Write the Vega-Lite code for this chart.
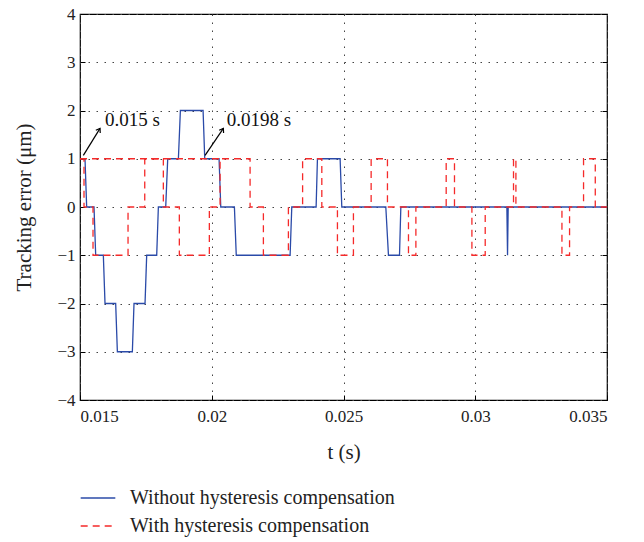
{
  "$schema": "https://vega.github.io/schema/vega-lite/v6.json",
  "width": 527,
  "height": 386,
  "autosize": {"type": "none"},
  "padding": {"left": 80, "top": 14, "right": 37, "bottom": 142},
  "background": "white",
  "config": {
    "font": "Liberation Serif",
    "view": {"stroke": "black", "strokeWidth": 1.2},
    "axis": {"labelFont": "Liberation Serif", "titleFont": "Liberation Serif", "labelFontSize": 17, "titleFontSize": 21, "labelColor": "#222", "titleColor": "#222", "titleFontWeight": "normal", "domain": false, "tickColor": "black", "tickSize": -5, "gridColor": "#444", "gridDash": [1.5, 6.5], "gridWidth": 1}
  },
  "datasets": {
    "lines": [
      {"s": "Without hysteresis compensation", "g": "b", "i": 0, "t": 0.015, "e": 1},
      {"s": "Without hysteresis compensation", "g": "b", "i": 1, "t": 0.01519, "e": 1},
      {"s": "Without hysteresis compensation", "g": "b", "i": 2, "t": 0.015253, "e": 0},
      {"s": "Without hysteresis compensation", "g": "b", "i": 3, "t": 0.015532, "e": 0},
      {"s": "Without hysteresis compensation", "g": "b", "i": 4, "t": 0.015595, "e": -1},
      {"s": "Without hysteresis compensation", "g": "b", "i": 5, "t": 0.015886, "e": -1},
      {"s": "Without hysteresis compensation", "g": "b", "i": 6, "t": 0.015949, "e": -2},
      {"s": "Without hysteresis compensation", "g": "b", "i": 7, "t": 0.016354, "e": -2},
      {"s": "Without hysteresis compensation", "g": "b", "i": 8, "t": 0.016418, "e": -3},
      {"s": "Without hysteresis compensation", "g": "b", "i": 9, "t": 0.016987, "e": -3},
      {"s": "Without hysteresis compensation", "g": "b", "i": 10, "t": 0.01705, "e": -2},
      {"s": "Without hysteresis compensation", "g": "b", "i": 11, "t": 0.017468, "e": -2},
      {"s": "Without hysteresis compensation", "g": "b", "i": 12, "t": 0.017531, "e": -1},
      {"s": "Without hysteresis compensation", "g": "b", "i": 13, "t": 0.017911, "e": -1},
      {"s": "Without hysteresis compensation", "g": "b", "i": 14, "t": 0.017974, "e": 0},
      {"s": "Without hysteresis compensation", "g": "b", "i": 15, "t": 0.018253, "e": 0},
      {"s": "Without hysteresis compensation", "g": "b", "i": 16, "t": 0.018329, "e": 1},
      {"s": "Without hysteresis compensation", "g": "b", "i": 17, "t": 0.018734, "e": 1},
      {"s": "Without hysteresis compensation", "g": "b", "i": 18, "t": 0.01881, "e": 2},
      {"s": "Without hysteresis compensation", "g": "b", "i": 19, "t": 0.019671, "e": 2},
      {"s": "Without hysteresis compensation", "g": "b", "i": 20, "t": 0.019734, "e": 1},
      {"s": "Without hysteresis compensation", "g": "b", "i": 21, "t": 0.020278, "e": 1},
      {"s": "Without hysteresis compensation", "g": "b", "i": 22, "t": 0.020342, "e": 0},
      {"s": "Without hysteresis compensation", "g": "b", "i": 23, "t": 0.02086, "e": 0},
      {"s": "Without hysteresis compensation", "g": "b", "i": 24, "t": 0.02093, "e": -1},
      {"s": "Without hysteresis compensation", "g": "b", "i": 25, "t": 0.022974, "e": -1},
      {"s": "Without hysteresis compensation", "g": "b", "i": 26, "t": 0.023037, "e": 0},
      {"s": "Without hysteresis compensation", "g": "b", "i": 27, "t": 0.023961, "e": 0},
      {"s": "Without hysteresis compensation", "g": "b", "i": 28, "t": 0.024011, "e": 1},
      {"s": "Without hysteresis compensation", "g": "b", "i": 29, "t": 0.024872, "e": 1},
      {"s": "Without hysteresis compensation", "g": "b", "i": 30, "t": 0.024935, "e": 0},
      {"s": "Without hysteresis compensation", "g": "b", "i": 31, "t": 0.026606, "e": 0},
      {"s": "Without hysteresis compensation", "g": "b", "i": 32, "t": 0.026706, "e": -1},
      {"s": "Without hysteresis compensation", "g": "b", "i": 33, "t": 0.027125, "e": -1},
      {"s": "Without hysteresis compensation", "g": "b", "i": 34, "t": 0.027176, "e": 0},
      {"s": "Without hysteresis compensation", "g": "b", "i": 35, "t": 0.0312, "e": 0},
      {"s": "Without hysteresis compensation", "g": "b", "i": 36, "t": 0.031225, "e": -1},
      {"s": "Without hysteresis compensation", "g": "b", "i": 37, "t": 0.03125, "e": 0},
      {"s": "Without hysteresis compensation", "g": "b", "i": 38, "t": 0.035, "e": 0},
      {"s": "With hysteresis compensation", "g": "r2", "i": 0, "t": 0.015, "e": 1},
      {"s": "With hysteresis compensation", "g": "r2", "i": 1, "t": 0.020316, "e": 1},
      {"s": "With hysteresis compensation", "g": "r1", "i": 0, "t": 0.015, "e": 1},
      {"s": "With hysteresis compensation", "g": "r1", "i": 1, "t": 0.015152, "e": 1},
      {"s": "With hysteresis compensation", "g": "r1", "i": 2, "t": 0.015152, "e": 0},
      {"s": "With hysteresis compensation", "g": "r1", "i": 3, "t": 0.015494, "e": 0},
      {"s": "With hysteresis compensation", "g": "r1", "i": 4, "t": 0.015494, "e": -1},
      {"s": "With hysteresis compensation", "g": "r1", "i": 5, "t": 0.016823, "e": -1},
      {"s": "With hysteresis compensation", "g": "r1", "i": 6, "t": 0.016823, "e": 0},
      {"s": "With hysteresis compensation", "g": "r1", "i": 7, "t": 0.017457, "e": 0},
      {"s": "With hysteresis compensation", "g": "r1", "i": 8, "t": 0.017457, "e": 1},
      {"s": "With hysteresis compensation", "g": "r1", "i": 9, "t": 0.018163, "e": 1},
      {"s": "With hysteresis compensation", "g": "r1", "i": 10, "t": 0.018163, "e": 0},
      {"s": "With hysteresis compensation", "g": "r1", "i": 11, "t": 0.01877, "e": 0},
      {"s": "With hysteresis compensation", "g": "r1", "i": 12, "t": 0.01877, "e": -1},
      {"s": "With hysteresis compensation", "g": "r1", "i": 13, "t": 0.019909, "e": -1},
      {"s": "With hysteresis compensation", "g": "r1", "i": 14, "t": 0.019909, "e": 0},
      {"s": "With hysteresis compensation", "g": "r1", "i": 15, "t": 0.020316, "e": 0},
      {"s": "With hysteresis compensation", "g": "r1", "i": 16, "t": 0.020316, "e": 1},
      {"s": "With hysteresis compensation", "g": "r1", "i": 17, "t": 0.021455, "e": 1},
      {"s": "With hysteresis compensation", "g": "r1", "i": 18, "t": 0.021455, "e": 0},
      {"s": "With hysteresis compensation", "g": "r1", "i": 19, "t": 0.02196, "e": 0},
      {"s": "With hysteresis compensation", "g": "r1", "i": 20, "t": 0.02196, "e": -1},
      {"s": "With hysteresis compensation", "g": "r1", "i": 21, "t": 0.022909, "e": -1},
      {"s": "With hysteresis compensation", "g": "r1", "i": 22, "t": 0.022909, "e": 0},
      {"s": "With hysteresis compensation", "g": "r1", "i": 23, "t": 0.023448, "e": 0},
      {"s": "With hysteresis compensation", "g": "r1", "i": 24, "t": 0.023448, "e": 1},
      {"s": "With hysteresis compensation", "g": "r1", "i": 25, "t": 0.024177, "e": 1},
      {"s": "With hysteresis compensation", "g": "r1", "i": 26, "t": 0.024177, "e": 0},
      {"s": "With hysteresis compensation", "g": "r1", "i": 27, "t": 0.02477, "e": 0},
      {"s": "With hysteresis compensation", "g": "r1", "i": 28, "t": 0.02477, "e": -1},
      {"s": "With hysteresis compensation", "g": "r1", "i": 29, "t": 0.025377, "e": -1},
      {"s": "With hysteresis compensation", "g": "r1", "i": 30, "t": 0.025377, "e": 0},
      {"s": "With hysteresis compensation", "g": "r1", "i": 31, "t": 0.026049, "e": 0},
      {"s": "With hysteresis compensation", "g": "r1", "i": 32, "t": 0.026049, "e": 1},
      {"s": "With hysteresis compensation", "g": "r1", "i": 33, "t": 0.026668, "e": 1},
      {"s": "With hysteresis compensation", "g": "r1", "i": 34, "t": 0.026668, "e": 0},
      {"s": "With hysteresis compensation", "g": "r1", "i": 35, "t": 0.027466, "e": 0},
      {"s": "With hysteresis compensation", "g": "r1", "i": 36, "t": 0.027466, "e": -1},
      {"s": "With hysteresis compensation", "g": "r1", "i": 37, "t": 0.027747, "e": -1},
      {"s": "With hysteresis compensation", "g": "r1", "i": 38, "t": 0.027747, "e": 0},
      {"s": "With hysteresis compensation", "g": "r1", "i": 39, "t": 0.028897, "e": 0},
      {"s": "With hysteresis compensation", "g": "r1", "i": 40, "t": 0.028897, "e": 1},
      {"s": "With hysteresis compensation", "g": "r1", "i": 41, "t": 0.029212, "e": 1},
      {"s": "With hysteresis compensation", "g": "r1", "i": 42, "t": 0.029212, "e": 0},
      {"s": "With hysteresis compensation", "g": "r1", "i": 43, "t": 0.029873, "e": 0},
      {"s": "With hysteresis compensation", "g": "r1", "i": 44, "t": 0.029873, "e": -1},
      {"s": "With hysteresis compensation", "g": "r1", "i": 45, "t": 0.030378, "e": -1},
      {"s": "With hysteresis compensation", "g": "r1", "i": 46, "t": 0.030378, "e": 0},
      {"s": "With hysteresis compensation", "g": "r1", "i": 47, "t": 0.031452, "e": 0},
      {"s": "With hysteresis compensation", "g": "r1", "i": 48, "t": 0.031452, "e": 1},
      {"s": "With hysteresis compensation", "g": "r1", "i": 49, "t": 0.031543, "e": 1},
      {"s": "With hysteresis compensation", "g": "r1", "i": 50, "t": 0.031543, "e": 0},
      {"s": "With hysteresis compensation", "g": "r1", "i": 51, "t": 0.03329, "e": 0},
      {"s": "With hysteresis compensation", "g": "r1", "i": 52, "t": 0.03329, "e": -1},
      {"s": "With hysteresis compensation", "g": "r1", "i": 53, "t": 0.033579, "e": -1},
      {"s": "With hysteresis compensation", "g": "r1", "i": 54, "t": 0.033579, "e": 0},
      {"s": "With hysteresis compensation", "g": "r1", "i": 55, "t": 0.03411, "e": 0},
      {"s": "With hysteresis compensation", "g": "r1", "i": 56, "t": 0.03411, "e": 1},
      {"s": "With hysteresis compensation", "g": "r1", "i": 57, "t": 0.034555, "e": 1},
      {"s": "With hysteresis compensation", "g": "r1", "i": 58, "t": 0.034555, "e": 0},
      {"s": "With hysteresis compensation", "g": "r1", "i": 59, "t": 0.035, "e": 0}
    ],
    "notes": [
      {"t": 0.015127, "e": 1.07, "t2": 0.01576, "e2": 1.63, "tx": 0.01595, "ey": 1.8, "label": "0.015 s"},
      {"t": 0.019746, "e": 1.07, "t2": 0.020441, "e2": 1.63, "tx": 0.02057, "ey": 1.8, "label": "0.0198 s"}
    ]
  },
  "layer": [
    {
      "data": {"name": "lines"},
      "mark": {"type": "line", "strokeWidth": 1.3, "interpolate": "linear"},
      "encoding": {
        "x": {"field": "t", "type": "quantitative", "scale": {"domain": [0.015, 0.035], "nice": false, "zero": false},
          "axis": {"values": [0.015, 0.02, 0.025, 0.03, 0.035], "format": "~g", "title": "t (s)", "titlePadding": 17, "labelPadding": 13, "grid": true}},
        "y": {"field": "e", "type": "quantitative", "scale": {"domain": [-4, 4], "nice": false},
          "axis": {"values": [-4, -3, -2, -1, 0, 1, 2, 3, 4], "title": "Tracking error (μm)", "titlePadding": 22, "labelPadding": 10, "grid": true}},
        "color": {"field": "s", "type": "nominal",
          "scale": {"domain": ["Without hysteresis compensation", "With hysteresis compensation"], "range": ["#2a4aa8", "#f52a2a"]},
          "legend": {"title": null, "orient": "none", "legendX": 0, "legendY": 466, "symbolType": "stroke", "symbolSize": 1200, "symbolStrokeWidth": 1.3, "labelFontSize": 20, "labelFont": "Liberation Serif", "labelColor": "#222", "labelLimit": 0, "rowPadding": -8, "labelOffset": 14}},
        "strokeDash": {"field": "s", "type": "nominal",
          "scale": {"domain": ["Without hysteresis compensation", "With hysteresis compensation"], "range": [[1, 0], [7, 5]]},
          "legend": null},
        "detail": {"field": "g"},
        "order": {"field": "i", "type": "quantitative"}
      }
    },
    {
      "data": {"name": "notes"},
      "mark": {"type": "rule", "color": "black", "strokeWidth": 1.2},
      "encoding": {
        "x": {"field": "t", "type": "quantitative"},
        "y": {"field": "e", "type": "quantitative", "axis": {"orient": "right", "values": [-4, -3, -2, -1, 0, 1, 2, 3, 4], "labels": false, "title": null, "grid": false}},
        "x2": {"field": "t2"},
        "y2": {"field": "e2"}
      }
    },
    {
      "data": {"name": "notes"},
      "mark": {"type": "point", "shape": "M -0.55 0.8 L 0 0 L 0.55 0.8", "filled": false, "stroke": "black", "strokeWidth": 1.2, "size": 90, "angle": 32, "opacity": 1},
      "encoding": {
        "x": {"field": "t2", "type": "quantitative"},
        "y": {"field": "e2", "type": "quantitative", "axis": null}
      }
    },
    {
      "data": {"name": "notes"},
      "mark": {"type": "text", "align": "left", "baseline": "middle", "font": "Liberation Serif", "fontSize": 19, "color": "#111"},
      "encoding": {
        "x": {"field": "tx", "type": "quantitative"},
        "y": {"field": "ey", "type": "quantitative", "axis": null},
        "text": {"field": "label"}
      }
    }
  ],
  "resolve": {"axis": {"y": "independent"}}
}
